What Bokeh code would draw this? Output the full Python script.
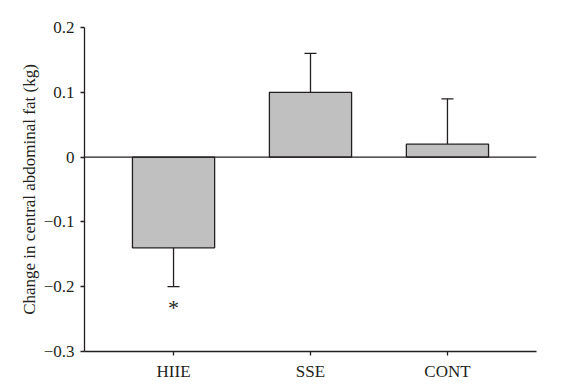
from bokeh.plotting import figure
from bokeh.models import Range1d, FixedTicker, Span, ColumnDataSource
from bokeh.core.properties import value
from bokeh.embed import file_html
from bokeh.resources import INLINE

categories = ["HIIE", "SSE", "CONT"]
means = [-0.14, 0.10, 0.02]
sems = [0.06, 0.06, 0.07]
sig_marks = ["*", "", ""]
sig_y = [-0.232, None, None]
y_ticks = [-0.3, -0.2, -0.1, 0.0, 0.1, 0.2]
y_tick_labels = ["\u22120.3", "\u22120.2", "\u22120.1", "0", "0.1", "0.2"]

xs = [i + 1 for i in range(len(categories))]
err_end = [m + (s if m >= 0 else -s) for m, s in zip(means, sems)]

FONT = "Liberation Serif"
INK = "#231f20"

p = figure(width=568, height=377, output_backend="svg", toolbar_location=None,
           x_range=Range1d(0.35, 3.65), y_range=Range1d(-0.3, 0.2),
           min_border_left=84, min_border_top=27, min_border_right=32, min_border_bottom=26,
           frame_width=452, frame_height=324)
p.outline_line_color = None
p.grid.visible = False
p.background_fill_color = "white"

src = ColumnDataSource(dict(x=xs, top=means, bottom=[0] * len(xs), end=err_end))
p.segment(x0="x", y0="top", x1="x", y1="end", source=src, line_color=INK, line_width=1.3)
p.scatter(x="x", y="end", source=src, marker="dash", size=12, line_color=INK, line_width=1.3)
p.vbar(x="x", top="top", bottom="bottom", width=0.6, source=src,
       fill_color="#c0c0c0", line_color=INK, line_width=1.3)

p.add_layout(Span(location=0, dimension="width", line_color=INK, line_width=1.3))

for x, t, y in zip(xs, sig_marks, sig_y):
    if t:
        p.text(x=[x], y=[y], text=[t], text_font=value(FONT), text_font_size="22px",
               text_align="center", text_baseline="middle", text_color=INK)

p.yaxis.ticker = FixedTicker(ticks=y_ticks)
p.yaxis.major_label_overrides = {t: l for t, l in zip(y_ticks, y_tick_labels)}
p.xaxis.ticker = FixedTicker(ticks=xs)
p.xaxis.major_label_overrides = {x: c for x, c in zip(xs, categories)}
p.yaxis.axis_label = "Change in central abdominal fat (kg)"

for ax in (p.xaxis, p.yaxis):
    ax.axis_line_color = INK
    ax.axis_line_width = 1.3
    ax.major_tick_line_color = INK
    ax.major_tick_line_width = 1.3
    ax.major_tick_out = 4
    ax.major_tick_in = 0
    ax.minor_tick_line_color = None
    ax.major_label_text_font = FONT
    ax.major_label_text_font_size = "17px"
    ax.major_label_text_color = INK
    ax.major_label_standoff = 6
    ax.axis_label_text_font = FONT
    ax.axis_label_text_font_size = "17px"
    ax.axis_label_text_font_style = "normal"
    ax.axis_label_text_color = INK
p.yaxis.axis_label_standoff = 2

open("out.html", "w").write(file_html(p, INLINE))
